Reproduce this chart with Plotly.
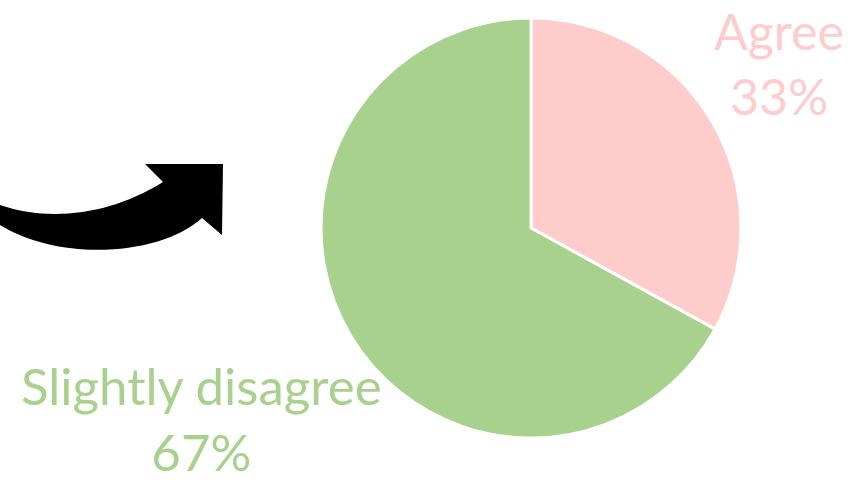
import plotly.graph_objects as go

labels = ["Agree", "Slightly disagree"]
values = [33, 67]
colors = ["#FFCCCC", "#A9D18E"]

W, H = 854, 484

def px(x, y):
    return f"{x / W:.5f},{1 - y / H:.5f}"

fig = go.Figure()
fig.add_trace(go.Pie(
    labels=labels, values=values, sort=False, direction="clockwise",
    rotation=0, textinfo="none", hoverinfo="label+percent",
    marker=dict(colors=colors, line=dict(color="white", width=3)),
    domain=dict(x=[321 / W, 741 / W], y=[1 - 438 / H, 1 - 18 / H]),
    showlegend=False,
))

total = sum(values)
label_pos = [(779, 63), (201, 418)]
sizes = [50, 51]
for lab, val, col, (lx, ly), fs in zip(labels, values, colors, label_pos, sizes):
    fig.add_annotation(
        x=lx / W, y=1 - ly / H, xref="paper", yref="paper",
        text=f"{lab}<br>{round(100 * val / total)}%", showarrow=False,
        font=dict(family="Lato", size=fs, color=col), align="center",
        xanchor="center", yanchor="middle",
    )

arrow = ("M " + px(0, 205) + " C " + px(50, 222) + " " + px(110, 215) + " " + px(163, 182)
         + " L " + px(145, 164) + " L " + px(223, 164) + " L " + px(222, 235)
         + " L " + px(202, 218) + " C " + px(160, 256) + " " + px(60, 262) + " " + px(0, 225) + " Z")
fig.add_shape(type="path", path=arrow, xref="paper", yref="paper",
              fillcolor="black", line=dict(width=0))

fig.update_layout(width=W, height=H, margin=dict(l=0, r=0, t=0, b=0),
                  paper_bgcolor="white", plot_bgcolor="white")
fig.write_html("out.html")
